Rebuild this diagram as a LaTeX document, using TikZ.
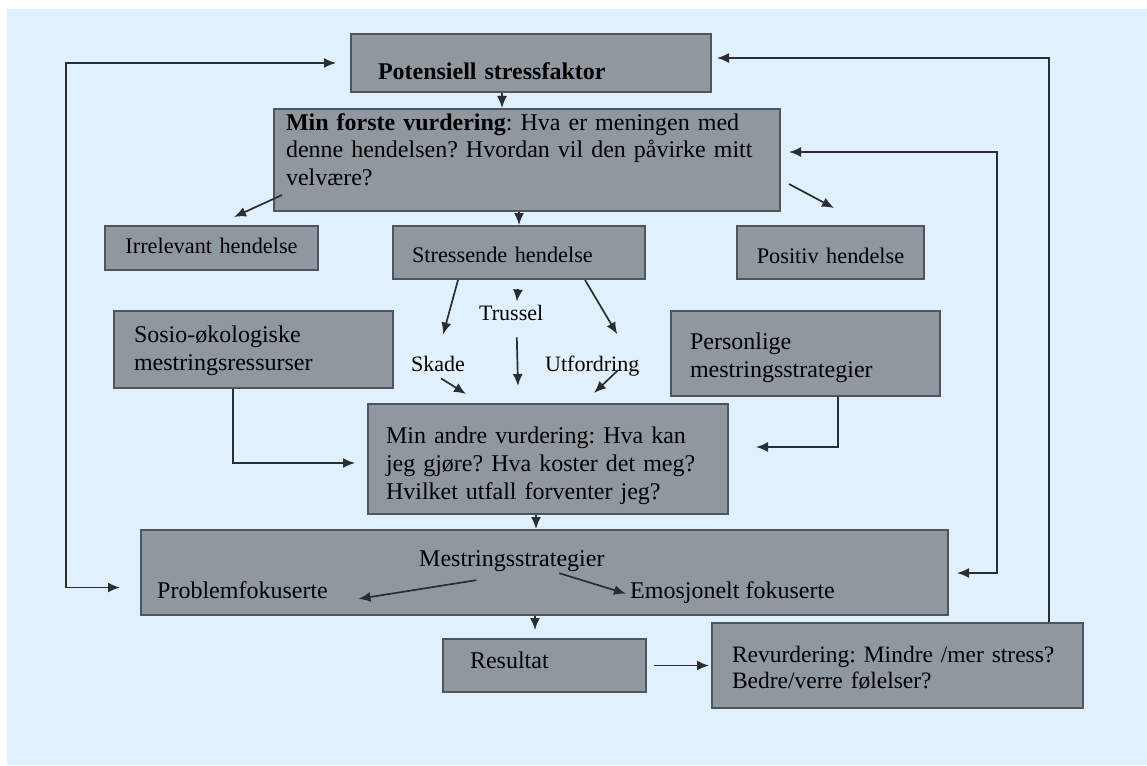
\documentclass[tikz,border=0pt]{standalone}
\usepackage{fontspec}
\setmainfont{Liberation Serif}
\usetikzlibrary{calc,arrows.meta}
\definecolor{bgblue}{HTML}{E1F0FD}
\definecolor{boxfill}{HTML}{8F979F}
\definecolor{boxline}{HTML}{4E555C}
\definecolor{lineclr}{HTML}{2A2E33}

\begin{document}
\begin{tikzpicture}[x=1pt,y=-1pt,
  >={Latex[length=12pt,width=10pt]},
  box/.style={draw=boxline, line width=2pt, fill=boxfill, inner sep=0pt,
    anchor=north west, align=left, font=\fontsize{24}{28}\selectfont\frenchspacing},
  small/.style={font=\fontsize{22.3}{26}\selectfont\frenchspacing},
  lbl/.style={inner sep=0pt, anchor=base west, font=\fontsize{22}{26}\selectfont},
  txt/.style={inner sep=0pt, anchor=base west, font=\fontsize{24}{28}\selectfont},
  arr/.style={draw=lineclr, line width=1.7pt, ->}]
\useasboundingbox (0,0) rectangle (1147,765);
\fill[white] (0,0) rectangle (1147,765);
\fill[bgblue] (7,9) rectangle (1147,765);

% boxes
\node[box, minimum width=360pt, text width=306pt, text height=45.5pt, text depth=12.5pt,
  font=\fontsize{24}{28}\selectfont\bfseries] (pot) at (350,33) {Potensiell stressfaktor};
\node[box, minimum width=506pt, text width=482pt, text height=21pt, text depth=81pt] (first) at (273,108)
  {\textbf{Min forste vurdering}: Hva er meningen med\\[-0.5pt]denne hendelsen? Hvordan vil den påvirke mitt\\[-0.5pt]velvære?};
\node[box, small, minimum width=213pt, text width=193pt, text height=27pt, text depth=17pt, align=center] (irr) at (104,225)
  {Irrelevant hendelse};
\node[box, small, minimum width=252pt, text width=214pt, text height=36pt, text depth=17pt] (stress) at (392,225)
  {Stressende hendelse};
\node[box, small, minimum width=187pt, text width=175pt, text height=37pt, text depth=16pt, align=center] (pos) at (736,225)
  {Positiv hendelse};
\node[box, minimum width=279pt, text width=239pt, text height=31pt, text depth=46pt] (sosio) at (113,310)
  {Sosio-økologiske\\mestringsressurser};
\node[box, minimum width=269pt, text width=231pt, text height=38pt, text depth=47pt] (pers) at (670,310)
  {Personlige\\mestringsstrategier};
\node[box, minimum width=360pt, text width=324pt, text height=39pt, text depth=71pt] (second) at (367,403)
  {Min andre vurdering: Hva kan\\jeg gjøre? Hva koster det meg?\\Hvilket utfall forventer jeg?};
\node[box, minimum width=807pt, minimum height=85pt] (strat) at (140,529) {};
\node[box, minimum width=203pt, text width=149pt, text height=29pt, text depth=24pt] (res) at (442,638)
  {Resultat};
\node[box, minimum width=371pt, text width=331pt, text height=39pt, text depth=46pt,
  font=\fontsize{23.5}{28}\selectfont\frenchspacing] (rev) at (711,622)
  {Revurdering: Mindre /mer stress?\\[-2pt]Bedre/verre følelser?};

% labels
\node[lbl] (trussel) at (479,320) {Trussel};
\node[lbl] (skade) at (411,371) {Skade};
\node[lbl] (utf) at (545,371) {Utfordring};
\node[txt] (mest) at (419,566) {Mestringsstrategier};
\node[txt] (prob) at (157,598) {Problemfokuserte};
\node[txt] (emo) at (630,598) {Emosjonelt fokuserte};

% loop coordinates
\coordinate (loopL) at (66,0);
\coordinate (loopR) at (997,0);
\coordinate (potIn) at ($(pot.west)+(-14,0)$);
\coordinate (stratIn) at ($(strat.west)+(-20,15)$);
\coordinate (firstIn) at ($(first.east)+(8,-8)$);
\coordinate (stratIn2) at ($(strat.east)+(8,0.5)$);

% connectors
\draw[arr] ($(pot.south)+(-29,0)$) -- ($(first.north)+(-25,0)$);
\draw[arr] (first.south -| stress.north) -- (stress.north);
\draw[arr] ($(first.south west)+(9,-17)$) -- ($(irr.north)+(22.5,-8)$);
\draw[arr] ($(first.east)+(8,24)$) -- ($(pos.north)+(3.5,-17)$);
\draw[arr] ($(stress.south)+(-61,0)$) -- ($(skade.north)+(5,-21)$);
\draw[arr] ($(stress.south)+(-1,9)$) -- ($(trussel.north)+(5.6,-3)$);
\draw[arr] ($(stress.south)+(66,0)$) -- ($(utf.north)+(25,-21)$);
\draw[arr] ($(skade.south)+(3,7)$) -- ($(second.north)+(-82,-9)$);
\draw[arr] ($(trussel.south)+(5.6,17)$) -- ($(second.north)+(-30,-17)$);
\draw[arr] ($(utf.south)+(26,-6)$) -- ($(second.north)+(46,-10)$);
\draw[arr] ($(sosio.south)+(-20.5,0)$) |- ($(second.west)+(-12,4)$);
\draw[arr] ($(pers.south)+(32.5,0)$) |- ($(second.east)+(27,-12)$);
\draw[arr] ($(second.south)+(-12,0)$) -- ($(strat.north)+(-8.5,0)$);
\draw[arr] ($(mest.south)+(-35.6,8.8)$) -- ($(prob.east)+(30.4,9.2)$);
\draw[arr] ($(mest.south)+(47.4,1.8)$) -- ($(emo.west)+(-4,1.6)$);
\draw[arr] ($(strat.south)+(-9.5,0)$) -- ($(res.north)+(-9.5,-8)$);
\draw[arr] ($(res.east)+(7,0)$) -- ($(rev.west)+(-2,0)$);
\draw[arr,<->] (potIn) -- (potIn -| loopL) |- (stratIn);
\draw[arr] ($(rev.north)+(151.5,0)$) |- ($(pot.east)+(5,-5)$);
\draw[arr,<->] (firstIn) -- (firstIn -| loopR) |- (stratIn2);
\end{tikzpicture}
\end{document}
